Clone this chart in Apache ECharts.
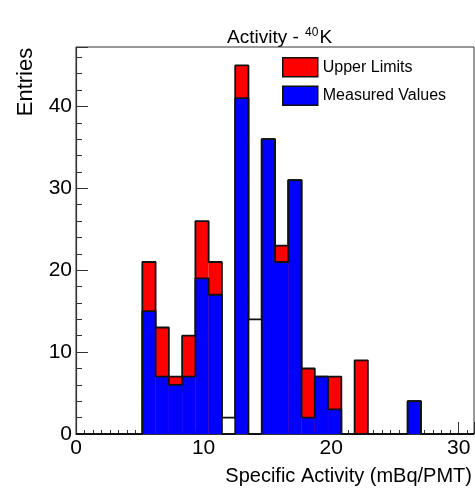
<!DOCTYPE html>
<html>
<head>
<meta charset="utf-8">
<script src="https://cdn.jsdelivr.net/npm/echarts@6/dist/echarts.min.js"></script>
<style>
  html, body { margin: 0; padding: 0; background: #fff; }
  #main { width: 475px; height: 495px; }
</style>
</head>
<body>
<div id="main"></div>
<script>
// 30 bins from 0 to 31.2
const binWidth = 1.04;
const measured = [0, 0, 0, 0, 0, 15, 7, 6, 7, 19, 17, 0, 41, 0, 36, 21, 31, 2, 7, 3, 0, 0, 0, 0, 0, 4, 0, 0, 0, 0];
const upperLimits = [0, 0, 0, 0, 0, 6, 6, 1, 5, 7, 4, 2, 4, 14, 0, 2, 0, 6, 0, 4, 0, 9, 0, 0, 0, 0, 0, 0, 0, 0];
// bins where the upper-limit part comes out as an empty box
const hollowBins = [11, 13];
const xTicks = [0, 10, 20, 30];
const yTicks = [0, 10, 20, 30, 40];

const font = "'Liberation Sans', Arial, sans-serif";
const outline = "#111";

// stacked total = measured + upper limits, drawn first, measured on top of it
const totals = measured.map((v, i) => v + upperLimits[i]);

function toBins(values) {
  return values.map((v, i) => [i * binWidth, (i + 1) * binWidth, v]);
}

// histogram contour: one point per bin edge, drawn as a step line
function toContour(values) {
  const pts = values.map((v, i) => [i * binWidth, v]);
  pts.push([values.length * binWidth, 0]);
  return pts;
}

function fillRender(fillFor) {
  return function (params, api) {
    const h = api.value(2);
    if (!(h > 0)) return null;
    const base = api.coord([api.value(0), 0]);
    const top = api.coord([api.value(1), h]);
    return {
      type: "rect",
      shape: { x: base[0], y: top[1], width: top[0] - base[0], height: base[1] - top[1] },
      style: { fill: fillFor(params.dataIndex) }
    };
  };
}

const chart = echarts.init(document.getElementById("main"));

const option = {
  animation: false,
  backgroundColor: "#fff",
  title: {
    text: "{a|Activity - }{s|40}{a|K}",
    left: 222,
    top: 22,
    textStyle: {
      fontWeight: "normal",
      rich: {
        a: { fontFamily: font, fontSize: 19, fontWeight: "normal", color: "#000", lineHeight: 22 },
        s: { fontFamily: font, fontSize: 12, fontWeight: "normal", color: "#000", lineHeight: 22, verticalAlign: "top", padding: [0, 1, 6, 1] }
      }
    }
  },
  legend: {
    orient: "vertical",
    left: 282,
    top: 57,
    padding: 0,
    itemWidth: 35,
    itemHeight: 19,
    itemGap: 8,
    selectedMode: false,
    textStyle: { fontFamily: font, fontSize: 16, color: "#000" },
    data: [
      { name: "Upper Limits", icon: "rect", itemStyle: { color: "#ff0000", borderColor: outline, borderWidth: 1.5 } },
      { name: "Measured Values", icon: "rect", itemStyle: { color: "#0000ff", borderColor: outline, borderWidth: 1.5 } }
    ]
  },
  grid: {
    left: 76,
    right: 1,
    top: 47,
    bottom: 61,
    show: true,
    borderColor: "#333",
    borderWidth: 1
  },
  xAxis: [
    {
      type: "value",
      min: 0,
      max: 31.2,
      interval: 10,
      splitLine: { show: false },
      axisLine: { onZero: false, lineStyle: { color: "#333", width: 1.2 } },
      axisTick: { inside: true, length: 12, lineStyle: { color: "#333" } },
      minorTick: { show: true, splitNumber: 15, length: 4, lineStyle: { color: "#333" } },
      axisLabel: {
        customValues: xTicks,
        margin: 4,
        fontFamily: font,
        fontSize: 21,
        color: "#000"
      }
    }
  ],
  yAxis: [
    {
      type: "value",
      min: 0,
      max: 47.25,
      interval: 10,
      splitLine: { show: false },
      axisLine: { show: true, lineStyle: { color: "#333", width: 1.2 } },
      axisTick: { show: true, inside: true, length: 12, lineStyle: { color: "#333" } },
      minorTick: { show: true, splitNumber: 5, length: 6, lineStyle: { color: "#333" } },
      axisLabel: {
        customValues: yTicks,
        margin: 4,
        fontFamily: font,
        fontSize: 21,
        color: "#000"
      }
    }
  ],
  graphic: [
    {
      type: "text",
      x: 26,
      y: 82,
      rotation: Math.PI / 2,
      style: { text: "Entries", fontFamily: font, fontSize: 22, fill: "#000", align: "center", verticalAlign: "middle" }
    },
    {
      type: "text",
      x: 472,
      y: 476,
      style: { text: "Specific Activity (mBq/PMT)", fontFamily: font, fontSize: 20, fill: "#000", align: "right", verticalAlign: "middle" }
    }
  ],
  series: [
    {
      name: "Upper Limits",
      type: "custom",
      z: 1,
      itemStyle: { color: "#ff0000" },
      encode: { x: [0, 1], y: 2 },
      renderItem: fillRender((i) => (hollowBins.indexOf(i) >= 0 ? "#ffffff" : "#ff0000")),
      data: toBins(totals)
    },
    {
      name: "Upper Limits contour",
      type: "line",
      z: 2,
      step: "end",
      symbol: "none",
      silent: true,
      lineStyle: { color: outline, width: 1.8 },
      data: toContour(totals)
    },
    {
      name: "Measured Values",
      type: "custom",
      z: 3,
      itemStyle: { color: "#0000ff" },
      encode: { x: [0, 1], y: 2 },
      renderItem: fillRender(() => "#0000ff"),
      data: toBins(measured)
    },
    {
      name: "Measured Values contour",
      type: "line",
      z: 4,
      step: "end",
      symbol: "none",
      silent: true,
      lineStyle: { color: outline, width: 1.8 },
      data: toContour(measured)
    }
  ]
};

chart.setOption(option);
window.onresize = function () {
  chart.resize();
};
</script>
</body>
</html>
